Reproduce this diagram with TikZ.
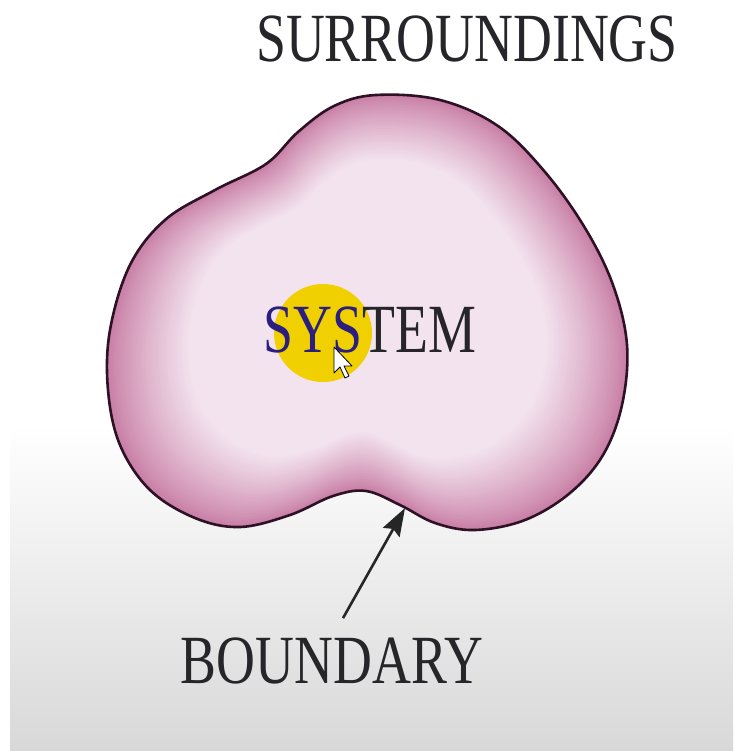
\documentclass[tikz,border=0pt]{standalone}
\usepackage{fontspec}
\usepackage{xcolor}
\usepackage{tikz}
\usetikzlibrary{arrows.meta}
\newfontfamily\labelfont{Liberation Serif}[FakeStretch=0.78]
\definecolor{blobedge}{RGB}{200,126,165}
\definecolor{blobcore}{RGB}{243,227,239}
\definecolor{rimcolor}{RGB}{45,18,38}
\definecolor{sunspot}{RGB}{240,208,0}
\definecolor{inkgray}{RGB}{38,38,42}
\definecolor{sysblue}{RGB}{42,30,128}
\definecolor{floorgray}{RGB}{216,216,216}
\newcommand\blobpath{plot[smooth cycle, tension=0.6] coordinates {
(376,95) (334,106) (298,132) (266,164) (215,190) (165,220) (130,265)
(110,330) (108,390) (120,445) (150,490) (195,518) (240,527) (290,515)
(333,496) (366,491) (400,505) (435,523) (475,530) (525,520) (570,493)
(603,455) (622,405) (627,345) (613,285) (585,228) (545,172) (498,126)
(440,100)}}

\begin{document}
\begin{tikzpicture}[
  x=1pt,
  y=-1pt,
  labeltext/.style={font=\labelfont\fontsize{69}{69}\selectfont, text=inkgray, inner sep=3pt},
  rim/.style={draw=rimcolor, line width=2.6pt},
  pointer/.style={draw=black!85, line width=2.6pt, -{Stealth[length=28pt,width=19pt,inset=4pt]}},
  cursor/.style={fill=white, draw=black, line width=0.8pt, line join=round}
]
\useasboundingbox (0,0) rectangle (733,751);
\fill[white] (0,0) rectangle (733,751);
\shade[top color=white, bottom color=floorgray] (10,425) rectangle (733,751);
\begin{scope}
  \clip \blobpath;
  \fill[blobedge] \blobpath;
  \foreach \s in {1,...,40} {
    \pgfmathsetmacro\fac{1-0.0078*\s}
    \pgfmathtruncatemacro\pct{100*(\s/40)^0.85}
    \fill[blobcore!\pct!blobedge, scale around={\fac:(370,302)}] \blobpath;
  }
\end{scope}
\draw[rim] \blobpath;
\fill[sunspot] (323,333) circle (49pt);
\node[labeltext, anchor=base] (system) at (370,352) {{\color{sysblue}SYS}TEM};
\draw[cursor] (334,347) -- ++(0,26) -- ++(6,-6) -- ++(5,11) -- ++(4,-2)
  -- ++(-5,-10) -- ++(8,0) -- cycle;
\node[labeltext, anchor=base] (surroundings) at (467,62) {SURROUNDINGS};
\node[labeltext, anchor=base] (boundary) at (332,683) {BOUNDARY};
\coordinate (dent) at (405,508);
\draw[pointer] ([xshift=11pt,yshift=16pt]boundary.north) -- (dent);
\end{tikzpicture}
\end{document}
